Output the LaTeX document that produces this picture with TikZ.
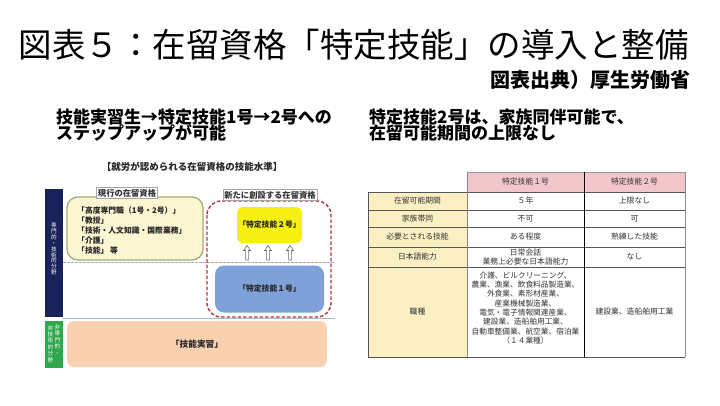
\documentclass[tikz,border=0pt]{standalone}
\usepackage{fontspec}
\setmainfont{Noto Sans CJK JP}
\definecolor{navybar}{HTML}{18235A}
\definecolor{greenbar}{HTML}{2FA84C}
\definecolor{olivebd}{HTML}{9DB07A}
\definecolor{paleyel}{HTML}{FCF7D2}
\definecolor{brightyel}{HTML}{F6EF12}
\definecolor{bluebox}{HTML}{7FA0D8}
\definecolor{peach}{HTML}{F9D0B0}
\definecolor{reddash}{HTML}{B2343F}
\definecolor{graydash}{HTML}{A3ABBA}
\definecolor{sepline}{HTML}{A9B9CC}
\definecolor{pinkhdr}{HTML}{F3C6CC}
\definecolor{leftcol}{HTML}{FBEFC4}
\definecolor{tbltext}{HTML}{333333}
\definecolor{tblline}{HTML}{555555}
\tikzset{
  fs/.style={font=\fontsize{#1}{#1}\selectfont},
  bfs/.style={font=\bfseries\fontsize{#1}{#1}\selectfont},
  lblbox/.style={draw=gray!70, fill=white, inner sep=1.5pt, bfs=8.3, text=black!80},
  boxtext/.style={bfs=7.8, text=black!85},
  tcell/.style={fs=7.8, text=tbltext, align=center, inner sep=0pt},
  tline/.style={draw=tblline, line width=0.8pt},
  hollowarrow/.style={draw=gray!80!black, fill=white, line width=0.6pt},
}
\begin{document}
\begin{tikzpicture}[x=1pt,y=-1pt]
\useasboundingbox (0,0) rectangle (720,405);
\fill[white] (0,0) rectangle (720,405);

% title and source
\node[fs=33.5, inner sep=0pt] (title) at (354,45) {図表５：在留資格「特定技能」の導入と整備};
\node[bfs=20, anchor=east, inner sep=0pt] (src) at (691,80) {図表出典）厚生労働省};

% subtitles
\node[bfs=17, anchor=base west, inner sep=0pt] (subL1) at (56,123) {技能実習生→特定技能1号→2号への};
\node[bfs=17, anchor=base west, inner sep=0pt] (subL2) at (56,139) {ステップアップが可能};
\node[bfs=17, anchor=base west, inner sep=0pt] (subR1) at (369,123) {特定技能2号は、家族同伴可能で、};
\node[bfs=17, anchor=base west, inner sep=0pt] (subR2) at (369,139) {在留可能期間の上限なし};

% ---------- left diagram ----------
\node[bfs=9.5, inner sep=0pt, text=black!85] (dtitle) at (192,167) {【就労が認められる在留資格の技能水準】};

\fill[navybar] (45,189) rectangle (63,317);
\node[fs=5.6, text=white, align=center, inner sep=0pt] (navytxt) at (54,249)
  {専\\[0.3pt]門\\[0.3pt]的\\[0.3pt]・\\[0.3pt]技\\[0.3pt]術\\[0.3pt]的\\[0.3pt]分\\[0.3pt]野};
\fill[greenbar] (45,321) rectangle (63,368);
\node[fs=5.6, text=white, align=center, inner sep=0pt] (greentxtR) at (57.5,340)
  {非\\[0.8pt]専\\[0.8pt]門\\[0.8pt]的\\[0.8pt]・};
\node[fs=5.6, text=white, align=center, inner sep=0pt] (greentxtL) at (50.5,344)
  {非\\[0.8pt]技\\[0.8pt]術\\[0.8pt]的\\[0.8pt]分\\[0.8pt]野};

% separator lines
\draw[graydash, dashed, line width=0.9pt, dash pattern=on 2.5pt off 1.5pt] (63,262) -- (335,262);
\draw[sepline, line width=1pt] (63,318) -- (335,318);

% current status box
\draw[olivebd, fill=paleyel, line width=1.3pt, rounded corners=11pt] (67,197) rectangle (203,260);
\node[lblbox] (curlbl) at (127,193) {現行の在留資格};
\node[boxtext, align=left, anchor=west, inner sep=0pt, font=\bfseries\fontsize{7.8}{9.8}\selectfont] (curtext) at (77,230.5)
  {「高度専門職（1号・2号）」\\「教授」\\「技術・人文知識・国際業務」\\「介護」\\「技能」 等};

% new status area
\draw[reddash, line width=1.4pt, dash pattern=on 3.5pt off 2pt, rounded corners=14pt] (207,201) rectangle (331,317);
\node[lblbox] (newlbl) at (270,195) {新たに創設する在留資格};

\node[fill=brightyel, rounded corners=6pt, minimum width=65pt, minimum height=36pt, inner sep=0pt, boxtext] (tok2) at (269.5,225) {「特定技能２号」};
\node[fill=bluebox, rounded corners=9pt, minimum width=109pt, minimum height=47pt, inner sep=0pt, boxtext] (tok1) at (269.5,289) {「特定技能１号」};

\foreach \x in {247,268,290}
  \draw[hollowarrow] (\x-1.4,260) -- (\x-1.4,250.5) -- (\x-3.4,250.5) -- (\x,245.5) -- (\x+3.4,250.5) -- (\x+1.4,250.5) -- (\x+1.4,260) -- cycle;

\node[fill=peach, rounded corners=7pt, minimum width=260pt, minimum height=46pt, inner sep=0pt, bfs=8.7, text=black!85] (intern) at (197,344) {「技能実習」};

% ---------- right table ----------
\fill[pinkhdr] (467,172) rectangle (685,192);
\fill[leftcol] (368,192) rectangle (467,357);
\foreach \y in {192,210,227,247,267,357}
  \draw[tline] (368,\y) -- (685,\y);
\draw[tline, draw=tblline!60] (467,172) -- (685,172);
\draw[tline] (368,192) -- (368,357);
\draw[tline, draw=tblline!70] (467,172) -- (467,357);
\draw[tline, draw=black, line width=1pt] (584,172) -- (584,357);
\draw[tline, draw=tblline!70] (685,172) -- (685,357);

\node[tcell] (h1) at (525.5,182) {特定技能１号};
\node[tcell] (h2) at (634.5,182) {特定技能２号};

\node[tcell] (r1a) at (417.5,201) {在留可能期間};
\node[tcell] (r1b) at (525.5,201) {５年};
\node[tcell] (r1c) at (634.5,201) {上限なし};

\node[tcell] (r2a) at (417.5,218.5) {家族帯同};
\node[tcell] (r2b) at (525.5,218.5) {不可};
\node[tcell] (r2c) at (634.5,218.5) {可};

\node[tcell] (r3a) at (417.5,237) {必要とされる技能};
\node[tcell] (r3b) at (525.5,237) {ある程度};
\node[tcell] (r3c) at (634.5,237) {熟練した技能};

\node[tcell] (r4a) at (417.5,257) {日本語能力};
\node[tcell, font=\fontsize{7.8}{9.6}\selectfont] (r4b) at (525.5,257) {日常会話\\業務上必要な日本語能力};
\node[tcell] (r4c) at (634.5,257) {なし};

\node[tcell] (r5a) at (417.5,312) {職種};
\node[tcell, font=\fontsize{7.7}{9.3}\selectfont] (r5b) at (525.5,308)
  {介護、ビルクリーニング、\\農業、漁業、飲食料品製造業、\\外食業、素形材産業、\\産業機械製造業、\\電気・電子情報関連産業、\\建設業、造船舶用工業、\\自動車整備業、航空業、宿泊業\\（１４業種）};
\node[tcell] (r5c) at (634.5,312) {建設業、造船舶用工業};
\end{tikzpicture}
\end{document}
